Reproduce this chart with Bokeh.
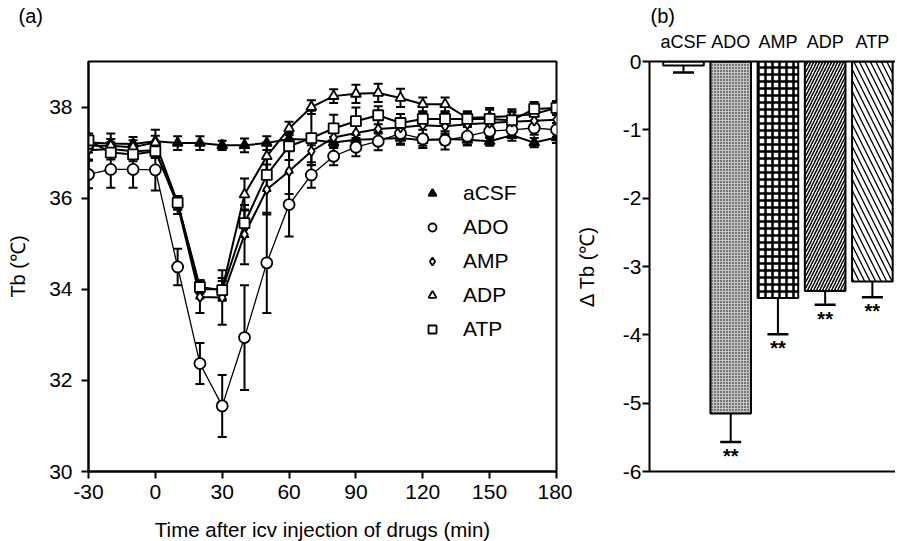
from bokeh.plotting import figure
from bokeh.layouts import row
from bokeh.models import (ColumnDataSource, Whisker, TeeHead, Legend, LegendItem,
                          Range1d, FixedTicker, LinearAxis)
from bokeh.embed import file_html
from bokeh.resources import INLINE
from bokeh.core.properties import value

FONT = "Liberation Sans"

# ---------------- data ----------------
time_min = [-30, -20, -10, 0, 10, 20, 30, 40, 50, 60, 70, 80, 90, 100, 110, 120, 130, 140, 150, 160, 170, 180]

acsf_mean = [37.22, 37.20, 37.19, 37.25, 37.21, 37.21, 37.16, 37.16, 37.21, 37.30, 37.28, 37.22, 37.28, 37.30, 37.32, 37.27, 37.30, 37.28, 37.25, 37.38, 37.22, 37.33]
acsf_sem = [0.15, 0.22, 0.15, 0.25, 0.15, 0.15, 0.10, 0.15, 0.15, 0.12, 0.12, 0.12, 0.12, 0.12, 0.12, 0.12, 0.12, 0.12, 0.10, 0.12, 0.10, 0.12]

ado_mean = [36.52, 36.63, 36.63, 36.62, 34.49, 32.37, 31.44, 32.94, 34.58, 35.86, 36.51, 36.92, 37.12, 37.25, 37.42, 37.30, 37.27, 37.36, 37.47, 37.50, 37.54, 37.50]
ado_sem = [0.30, 0.40, 0.40, 0.45, 0.40, 0.45, 0.68, 1.15, 1.10, 0.70, 0.28, 0.20, 0.20, 0.20, 0.25, 0.20, 0.20, 0.20, 0.15, 0.15, 0.15, 0.15]

amp_mean = [37.05, 37.08, 37.03, 37.05, 35.85, 33.83, 33.82, 35.20, 36.19, 36.59, 37.03, 37.33, 37.43, 37.52, 37.55, 37.60, 37.58, 37.62, 37.65, 37.68, 37.70, 37.72]
amp_sem = [0.20, 0.15, 0.15, 0.15, 0.20, 0.35, 0.60, 0.65, 0.55, 0.50, 0.30, 0.20, 0.20, 0.20, 0.20, 0.20, 0.20, 0.20, 0.20, 0.20, 0.20, 0.20]

adp_mean = [37.15, 37.15, 37.12, 37.22, 35.90, 34.00, 34.00, 36.08, 36.92, 37.53, 38.00, 38.24, 38.29, 38.31, 38.20, 38.06, 38.06, 37.76, 37.78, 37.80, 37.85, 37.98]
adp_sem = [0.15, 0.15, 0.15, 0.15, 0.15, 0.20, 0.25, 0.35, 0.30, 0.15, 0.15, 0.15, 0.20, 0.20, 0.20, 0.15, 0.15, 0.15, 0.20, 0.15, 0.15, 0.15]

atp_mean = [37.27, 37.00, 36.96, 37.03, 35.90, 34.05, 33.98, 35.45, 36.51, 37.14, 37.32, 37.53, 37.69, 37.82, 37.65, 37.74, 37.74, 37.74, 37.74, 37.71, 37.96, 37.98]
atp_sem = [0.15, 0.15, 0.15, 0.15, 0.15, 0.15, 0.20, 0.30, 0.35, 0.30, 0.60, 0.30, 0.30, 0.20, 0.20, 0.15, 0.15, 0.15, 0.20, 0.20, 0.15, 0.15]

x_ticks = [-30, 0, 30, 60, 90, 120, 150, 180]
y_ticks = [30, 32, 34, 36, 38]

drugs = ["aCSF", "ADO", "AMP", "ADP", "ATP"]
delta_tb = [-0.06, -5.15, -3.46, -3.36, -3.22]
delta_sem = [0.10, 0.42, 0.53, 0.20, 0.23]
signif = ["", "**", "**", "**", "**"]
delta_ticks = [-6, -5, -4, -3, -2, -1, 0]

# ---------------- styles ----------------
series = [
    ("aCSF", acsf_mean, acsf_sem, dict(marker="triangle", size=10, fill_color="black"), 2.0),
    ("ADO", ado_mean, ado_sem, dict(marker="circle", size=11, fill_color="white"), 1.3),
    ("AMP", amp_mean, amp_sem, dict(marker="diamond", size=10, fill_color="white"), 2.0),
    ("ADP", adp_mean, adp_sem, dict(marker="triangle", size=10, fill_color="white"), 2.0),
    ("ATP", atp_mean, atp_sem, dict(marker="square", size=10, fill_color="white"), 2.0),
]


def style_axis(ax, size="21px"):
    ax.axis_line_color = "black"
    ax.axis_line_width = 2
    ax.major_tick_line_color = "black"
    ax.major_tick_line_width = 2
    ax.major_tick_in = 0
    ax.major_tick_out = 7
    ax.minor_tick_line_color = None
    ax.major_label_text_font = FONT
    ax.major_label_text_font_size = size
    ax.major_label_text_color = "black"
    ax.axis_label_text_font = FONT
    ax.axis_label_text_color = "black"
    ax.axis_label_text_font_style = "normal"
    ax.axis_label_text_font_size = "20px"


def style_title(t, standoff, offset):
    t.text_font = FONT
    t.text_font_size = "20px"
    t.text_font_style = "normal"
    t.text_color = "black"
    t.align = "left"
    t.vertical_align = "bottom"
    t.standoff = standoff
    t.offset = offset


def hyphen_labels(ticks):
    return {t: str(t) for t in ticks}


# ---------------- panel (a) ----------------
p1 = figure(width=572, height=540, output_backend="svg", toolbar_location=None,
            x_range=Range1d(-30, 180), y_range=Range1d(30, 39), title="(a)",
            min_border_left=88, min_border_right=16, min_border_top=61, min_border_bottom=69)
p1.frame_width = 468
p1.frame_height = 410
p1.grid.visible = False
p1.outline_line_color = "black"
p1.outline_line_width = 2
p1.outline_line_alpha = 1
p1.background_fill_color = "white"
p1.border_fill_color = "white"
style_title(p1.title, 3, -70)

p1.xaxis.ticker = FixedTicker(ticks=x_ticks)
p1.yaxis.ticker = FixedTicker(ticks=y_ticks)
p1.xaxis.major_label_overrides = hyphen_labels(x_ticks)
style_axis(p1.xaxis[0])
style_axis(p1.yaxis[0])
p1.xaxis.major_label_standoff = 6
p1.yaxis.major_label_standoff = 9
p1.xaxis.axis_label = "Time after icv injection of drugs (min)"
p1.xaxis.axis_label_text_font_size = "20.5px"
p1.xaxis.axis_label_standoff = 16
p1.yaxis.axis_label = "Tb (℃)"
p1.yaxis.axis_label_standoff = 17

# empty spacer axis on top so that the panel title sits high, as in panel (b)
top_ax1 = LinearAxis(ticker=FixedTicker(ticks=[]), axis_line_color=None,
                     major_tick_line_color=None, minor_tick_line_color=None,
                     major_label_text_font_size="0px", axis_label="\u00a0",
                     axis_label_text_font_size="18px", axis_label_standoff=10)
p1.add_layout(top_ax1, "above")

legend_items = []
for name, mean, sem, mk, lw in series:
    lower = [m - s for m, s in zip(mean, sem)]
    upper = [m + s for m, s in zip(mean, sem)]
    src = ColumnDataSource(dict(t=time_min, m=mean, lo=lower, up=upper))
    w = Whisker(base="t", lower="lo", upper="up", source=src, level="underlay",
                line_color="black", line_width=2,
                lower_head=TeeHead(size=9, line_color="black", line_width=2),
                upper_head=TeeHead(size=9, line_color="black", line_width=2))
    p1.add_layout(w)
    p1.line("t", "m", source=src, line_color="black", line_width=lw)
for name, mean, sem, mk, lw in series:
    src = ColumnDataSource(dict(t=time_min, m=mean))
    r = p1.scatter("t", "m", source=src, marker=mk["marker"], size=mk["size"],
                   fill_color=mk["fill_color"], line_color="black", line_width=1.8)
    legend_items.append(LegendItem(label=name, renderers=[r]))

leg = Legend(items=legend_items, location=(334, 130), glyph_width=20, glyph_height=20,
             label_height=20, spacing=10, label_standoff=21, padding=0, margin=0,
             border_line_color=None, background_fill_alpha=0,
             label_text_font=FONT, label_text_font_size="21px", label_text_color="black")
p1.add_layout(leg, "center")

# ---------------- panel (b) ----------------
idx = list(range(len(drugs)))
p2 = figure(width=321, height=540, output_backend="svg", toolbar_location=None,
            x_range=Range1d(-0.72, 4.49), y_range=Range1d(-6, 0), title="(b)",
            x_axis_location=None,
            min_border_left=75, min_border_right=0, min_border_top=61, min_border_bottom=69)
p2.frame_width = 246
p2.frame_height = 410
p2.grid.visible = False
p2.outline_line_color = None
p2.background_fill_color = "white"
p2.border_fill_color = "white"
style_title(p2.title, 3, 1)

p2.yaxis.ticker = FixedTicker(ticks=delta_ticks)
p2.yaxis.major_label_overrides = hyphen_labels(delta_ticks)
style_axis(p2.yaxis[0])
p2.yaxis.major_label_standoff = 1
p2.yaxis.axis_label = "Δ Tb (℃)"
p2.yaxis.axis_label_standoff = 22

top_ax = LinearAxis(ticker=FixedTicker(ticks=idx),
                    major_label_overrides={i: d for i, d in enumerate(drugs)})
style_axis(top_ax, size="18px")
top_ax.major_tick_line_color = None
top_ax.major_tick_out = 0
top_ax.major_label_standoff = 10
p2.add_layout(top_ax, "above")

bot_ax = LinearAxis(ticker=FixedTicker(ticks=[]))
style_axis(bot_ax)
bot_ax.major_tick_line_color = None
bot_ax.major_label_text_font_size = "0px"
p2.add_layout(bot_ax, "below")

bar_styles = {
    "aCSF": dict(fill_color="white", hatch_pattern=" ", hatch_scale=6, hatch_weight=1),
    "ADO": dict(fill_color="#c4c4c4", hatch_pattern=".", hatch_scale=3, hatch_weight=1),
    "AMP": dict(fill_color="white", hatch_pattern="+", hatch_scale=7, hatch_weight=2.5),
    "ADP": dict(fill_color="white", hatch_pattern="/", hatch_scale=6, hatch_weight=1.5),
    "ATP": dict(fill_color="white", hatch_pattern="\\", hatch_scale=11, hatch_weight=1.3),
}
for i, d in enumerate(drugs):
    st = bar_styles[d]
    src = ColumnDataSource(dict(x=[idx[i]], b=[delta_tb[i]]))
    p2.vbar(x="x", top=0, bottom="b", width=0.86, source=src,
            fill_color=st["fill_color"], hatch_pattern=st["hatch_pattern"],
            hatch_scale=st["hatch_scale"], hatch_weight=st["hatch_weight"],
            hatch_color="black", line_color="black", line_width=2)

err_lo = [m - s for m, s in zip(delta_tb, delta_sem)]
esrc = ColumnDataSource(dict(x=idx, up=delta_tb, lo=err_lo, s=signif))
p2.add_layout(Whisker(base="x", lower="lo", upper="up", source=esrc,
                      line_color="black", line_width=2, upper_head=None,
                      lower_head=TeeHead(size=21, line_color="black", line_width=2.5)))
p2.text(x="x", y="lo", text="s", source=esrc, text_align="center", text_baseline="top",
        y_offset=3, text_font=value(FONT), text_font_size="20px", text_font_style="bold",
        text_color="black")

layout = row(p1, p2, spacing=0)
open("out.html", "w").write(file_html(layout, INLINE))
